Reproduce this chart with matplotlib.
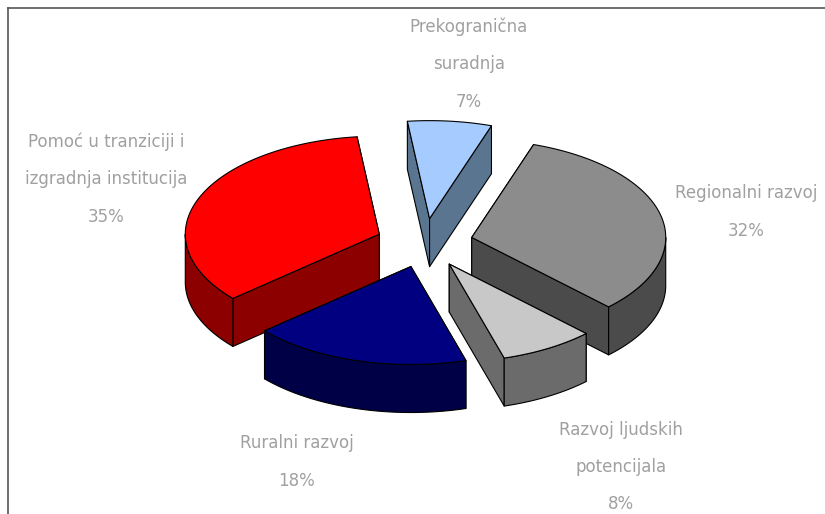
# Exploded 3D pie, drawn by hand because matplotlib has no pie with depth
import numpy as np
import matplotlib
matplotlib.use("Agg")
import matplotlib.pyplot as plt
from matplotlib.patches import Polygon

# data, clockwise from the first slice
categories = [
    "Regionalni razvoj",
    "Razvoj ljudskih\npotencijala",
    "Ruralni razvoj",
    "Pomoć u tranziciji i\nizgradnja institucija",
    "Prekogranična\nsuradnja",
]
# labels show them rounded
shares = [32.4, 7.9, 18.2, 34.6, 7.0]

# styles
top_colors = ["#8C8C8C", "#C8C8C8", "#000080", "#FF0000", "#A6CCFF"]
side_colors = ["#4B4B4B", "#6B6B6B", "#000046", "#8C0000", "#5A7590"]
label_xy = [(746, 212), (621, 467), (297, 462), (106, 179), (469, 64)]

# pie geometry in pixels
cx, cy = 424.5, 243
rx, ry = 194, 98
depth = 48
explode = 0.25
start_angle = 18.6


def point(angle, x0, y0):
    a = np.radians(angle)
    return x0 + rx * np.sin(a), y0 - ry * np.cos(a)


fig = plt.figure(figsize=(8.25, 5.14), dpi=100)
ax = fig.add_axes([8 / 825, 0, 817 / 825, 506 / 514])
ax.set_xlim(8, 825)
ax.set_ylim(514, 8)
for side in ["right", "bottom"]:
    ax.spines[side].set_visible(False)
for side in ["top", "left"]:
    ax.spines[side].set_color("#555555")
    ax.spines[side].set_linewidth(1.2)
ax.set_xticks([])
ax.set_yticks([])

# slice angles from the shares
spans = np.array(shares) / sum(shares) * 360
ends = start_angle + np.cumsum(spans)
starts = ends - spans
mids = (starts + ends) / 2

# back slices first
order = np.argsort(-np.cos(np.radians(mids)))
for i in order:
    x0 = cx + explode * rx * np.sin(np.radians(mids[i]))
    y0 = cy - explode * ry * np.cos(np.radians(mids[i]))
    style = dict(edgecolor="black", linewidth=0.8, joinstyle="round")

    # cut faces, the one further back first
    cuts = sorted([starts[i], ends[i]], key=lambda a: point(a, x0, y0)[1])
    for angle in cuts:
        px, py = point(angle, x0, y0)
        face = [(x0, y0), (px, py), (px, py + depth), (x0, y0 + depth)]
        ax.add_patch(Polygon(face, facecolor=side_colors[i], **style))

    # outer wall, only the front half of the rim shows
    a0, a1 = max(starts[i], 90), min(ends[i], 270)
    if a1 > a0:
        arc = np.linspace(a0, a1, 60)
        upper = [point(a, x0, y0) for a in arc]
        lower = [(x, y + depth) for x, y in upper[::-1]]
        ax.add_patch(Polygon(upper + lower, facecolor=side_colors[i], **style))

    # top
    arc = np.linspace(starts[i], ends[i], 120)
    top = [(x0, y0)] + [point(a, x0, y0) for a in arc]
    ax.add_patch(Polygon(top, facecolor=top_colors[i], **style))

# labels
for name, value, (x, y) in zip(categories, shares, label_xy):
    ax.text(x, y, f"{name}\n{value:.0f}%", ha="center", va="center", ma="center",
            color="#A0A0A0", fontsize=12, linespacing=2.38,
            family=["DejaVu Sans"], clip_on=False)

plt.savefig("out.png", dpi=100)
